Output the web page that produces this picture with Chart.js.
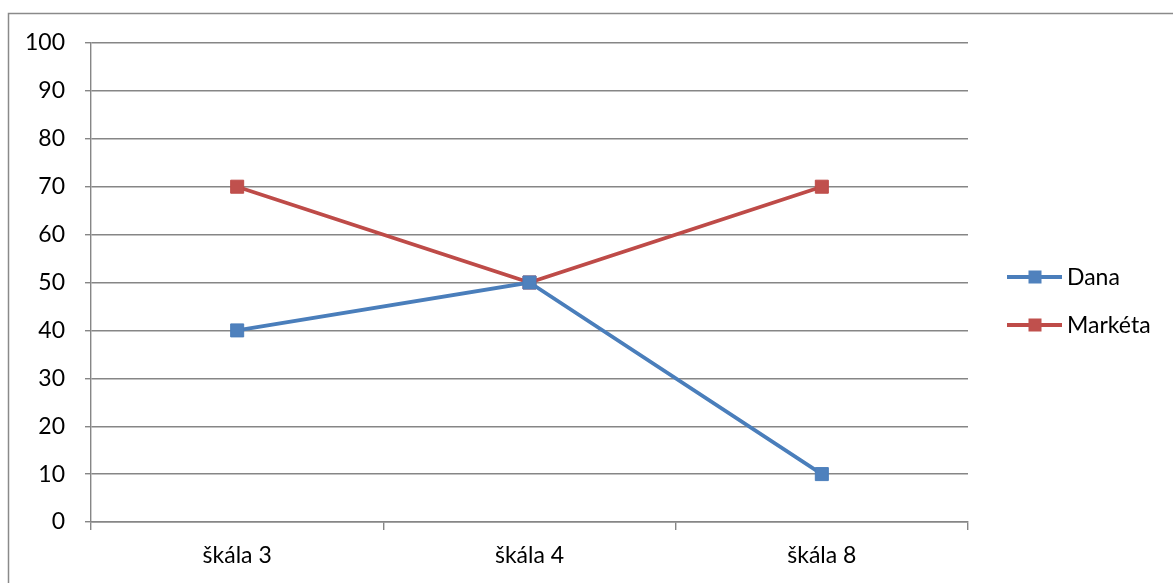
<!DOCTYPE html>
<html>
<head>
<meta charset="utf-8">
<script src="https://cdn.jsdelivr.net/npm/chart.js@4.4.1/dist/chart.umd.min.js"></script>
<style>
  html, body { margin: 0; padding: 0; background: #ffffff; }
  #wrap { position: relative; width: 1173px; height: 583px; }
</style>
</head>
<body>
<div id="wrap"><canvas id="c" width="1173" height="583"></canvas></div>
<script>
// Categories and series values
const categories = ['škála 3', 'škála 4', 'škála 8'];
const danaValues = [40, 50, 10];
const marketaValues = [70, 50, 70];
const seriesNames = ['Dana', 'Markéta'];

const FONT = 'Lato, "Open Sans", sans-serif';
const GRID = '#868686';

// Outer frame of the chart object
const framePlugin = {
  id: 'frame',
  beforeDraw(chart) {
    const ctx = chart.ctx;
    ctx.save();
    ctx.fillStyle = '#ffffff';
    ctx.fillRect(0, 0, chart.width, chart.height);
    ctx.strokeStyle = '#8a8a8a';
    ctx.lineWidth = 1.5;
    ctx.strokeRect(8.5, 13.5, chart.width + 20, chart.height + 20);
    ctx.restore();
  }
};

// Legend on the right: line sample with a square marker, then the series name
const sideLegend = {
  id: 'sideLegend',
  afterDraw(chart) {
    const ctx = chart.ctx;
    const x0 = 1007, x1 = 1062, mx = 1035;
    const ys = [277, 325];
    ctx.save();
    chart.data.datasets.forEach((ds, i) => {
      const y = ys[i];
      ctx.strokeStyle = ds.borderColor;
      ctx.lineWidth = 3.8;
      ctx.beginPath();
      ctx.moveTo(x0, y);
      ctx.lineTo(x1, y);
      ctx.stroke();
      ctx.fillStyle = ds.pointBackgroundColor;
      ctx.fillRect(mx - 6.5, y - 6.5, 13, 13);
      ctx.fillStyle = '#000000';
      ctx.font = '23px ' + FONT;
      ctx.textBaseline = 'middle';
      ctx.textAlign = 'left';
      ctx.fillText(ds.label, 1067, y + 1);
    });
    ctx.restore();
  }
};

new Chart(document.getElementById('c'), {
  type: 'line',
  data: {
    labels: categories,
    datasets: [
      {
        label: seriesNames[0],
        data: danaValues,
        borderColor: '#4A7EBB',
        backgroundColor: '#4F81BD',
        pointBackgroundColor: '#4F81BD',
        pointBorderColor: '#4A7EBB',
        borderWidth: 3.8,
        pointStyle: 'rect',
        pointRadius: 9.2,
        pointBorderWidth: 1,
        tension: 0
      },
      {
        label: seriesNames[1],
        data: marketaValues,
        borderColor: '#BE4B48',
        backgroundColor: '#C0504D',
        pointBackgroundColor: '#C0504D',
        pointBorderColor: '#BE4B48',
        borderWidth: 3.8,
        pointStyle: 'rect',
        pointRadius: 9.2,
        pointBorderWidth: 1,
        tension: 0
      }
    ]
  },
  options: {
    responsive: false,
    animation: false,
    devicePixelRatio: 1,
    layout: { padding: { top: 43, right: 205, left: 0, bottom: 0 } },
    plugins: {
      legend: { display: false },
      tooltip: { enabled: false }
    },
    scales: {
      x: {
        type: 'category',
        offset: true,
        afterFit(scale) { scale.height = 61; },
        grid: {
          offset: true,
          drawOnChartArea: false,
          drawTicks: true,
          tickLength: 8,
          color: GRID,
          lineWidth: 1.4
        },
        border: { display: true, color: GRID, width: 1.4 },
        ticks: {
          color: '#000000',
          font: { family: FONT, size: 23 },
          padding: 12,
          maxRotation: 0
        }
      },
      y: {
        min: 0,
        max: 100,
        afterFit(scale) { scale.width = 91; },
        grid: {
          color: GRID,
          lineWidth: 1.4,
          drawTicks: true,
          tickLength: 6
        },
        border: { display: true, color: GRID, width: 1.4 },
        ticks: {
          stepSize: 10,
          color: '#000000',
          font: { family: FONT, size: 23 },
          padding: 20
        }
      }
    }
  },
  plugins: [framePlugin, sideLegend]
});
</script>
</body>
</html>
